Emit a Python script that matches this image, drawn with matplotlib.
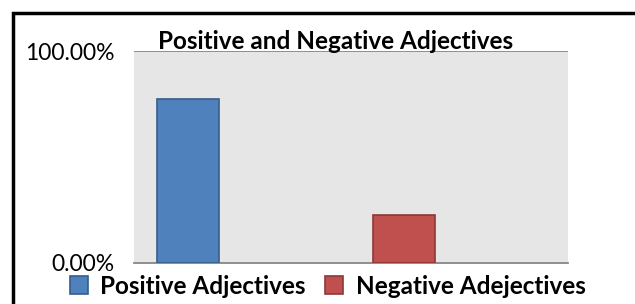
import matplotlib.pyplot as plt
from matplotlib.patches import Rectangle

categories = ['Positive Adjectives', 'Negative Adejectives']
values = [77.4, 22.6]
colors = ['#4f81bd', '#c0504d']
edges = ['#385d8a', '#8c3836']
yticks = [0, 100]
ytick_labels = ['0.00%', '100.00%']

plt.rcParams['font.family'] = ['Lato', 'DejaVu Sans']

fig = plt.figure(figsize=(6.35, 3.04), dpi=100)
ax = fig.add_axes([0.211, 0.135, 0.683, 0.697])
ax.set_facecolor('#e6e6e6')

bars = []
for i, (lab, v) in enumerate(zip(categories, values)):
    b = ax.bar(i, v, width=0.286, color=colors[i], edgecolor=edges[i],
               linewidth=1.2, label=lab, zorder=3)
    bars.append(b)

ax.set_xlim(-0.249, 1.755)
ax.set_ylim(0, 100)
ax.set_xticks([])
ax.set_yticks(yticks)
ax.set_yticklabels(ytick_labels, fontsize=16.5)
ax.tick_params(axis='y', length=0, pad=14)
ax.axhline(100, color='#878787', lw=1.3, zorder=2)
for s in ['top', 'right', 'left']:
    ax.spines[s].set_visible(False)
ax.spines['bottom'].set_color('#878787')
ax.spines['bottom'].set_linewidth(1.3)

fig.text(0.528, 0.862, 'Positive and Negative Adjectives', ha='center',
         va='center', fontsize=17.5, fontweight='bold')

fig.legend(handles=[b[0] for b in bars], labels=categories, ncol=2,
           loc='center', bbox_to_anchor=(0.516, 0.058), frameon=False,
           prop={'weight': 'bold', 'size': 17.5}, handlelength=0.75,
           handleheight=0.75, handletextpad=0.5, columnspacing=0.8,
           borderaxespad=0, borderpad=0)

# outer frame, cut at the right and bottom edge of the image
fig.patches.append(Rectangle((12.5 / 635, -0.1), 1.0, 1.1 - 13.5 / 304,
                             transform=fig.transFigure, fill=False,
                             edgecolor='black', lw=2.5))

fig.savefig('out.png', dpi=100)
